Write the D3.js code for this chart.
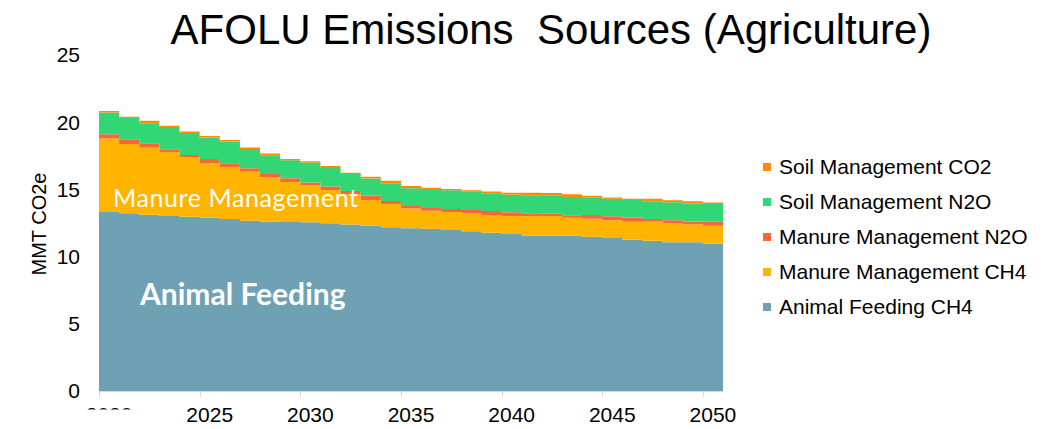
<!DOCTYPE html>
<html>
<head>
<meta charset="utf-8">
<script src="https://cdn.jsdelivr.net/npm/d3@7"></script>
<style>
  body { margin: 0; background: #fff; }
  svg { display: block; font-family: "Liberation Sans", Arial, sans-serif; }
</style>
</head>
<body>
<svg width="1043" height="429"></svg>
<script>
// years on the category axis
const years = d3.range(2020, 2051);

// series values (MMT CO2e)
const animalFeedingCH4 = [13.32, 13.22, 13.12, 13.02, 12.97, 12.89, 12.80, 12.67, 12.61, 12.57, 12.55,
  12.48, 12.39, 12.30, 12.19, 12.11, 12.08, 11.98, 11.88, 11.78, 11.68, 11.55, 11.55, 11.55, 11.48,
  11.38, 11.27, 11.18, 11.07, 11.07, 10.96];
const manureCH4 = [5.47, 5.16, 4.99, 4.76, 4.42, 4.07, 3.87, 3.70, 3.31, 2.98, 2.78,
  2.48, 2.27, 1.91, 1.73, 1.46, 1.34, 1.34, 1.34, 1.32, 1.34, 1.47, 1.47, 1.34, 1.34,
  1.32, 1.32, 1.43, 1.43, 1.34, 1.34];
const manureN2O = [0.31, 0.35, 0.33, 0.20, 0.17, 0.30, 0.28, 0.20, 0.22, 0.28, 0.19,
  0.26, 0.22, 0.33, 0.21, 0.19, 0.20, 0.22, 0.25, 0.30, 0.28, 0.20, 0.17, 0.18, 0.28,
  0.30, 0.31, 0.19, 0.20, 0.20, 0.30];
const soilN2O = [1.62, 1.58, 1.49, 1.66, 1.64, 1.60, 1.62, 1.44, 1.41, 1.34, 1.49,
  1.38, 1.26, 1.28, 1.32, 1.32, 1.34, 1.39, 1.36, 1.32, 1.31, 1.34, 1.34, 1.36, 1.32,
  1.30, 1.32, 1.32, 1.34, 1.35, 1.32];
const soilCO2 = [0.11, 0.10, 0.17, 0.10, 0.10, 0.11, 0.11, 0.10, 0.13, 0.10, 0.09,
  0.15, 0.10, 0.12, 0.19, 0.17, 0.17, 0.10, 0.10, 0.12, 0.15, 0.19, 0.20, 0.20, 0.10,
  0.10, 0.08, 0.18, 0.16, 0.15, 0.11];

const seriesNames = ["Animal Feeding CH4", "Manure Management CH4", "Manure Management N2O",
  "Soil Management N2O", "Soil Management CO2"];
const seriesValues = [animalFeedingCH4, manureCH4, manureN2O, soilN2O, soilCO2];
const colors = ["#6fa1b5", "#ffb400", "#fd6538", "#33d674", "#ff8a00"];
const yTicks = [0, 5, 10, 15, 20, 25];
const xLabelYears = [2020, 2025, 2030, 2035, 2040, 2045, 2050];

const svg = d3.select("svg");

// rows for d3.stack
const rows = years.map((yr, i) => {
  const r = { year: yr };
  seriesNames.forEach((n, s) => { r[n] = seriesValues[s][i]; });
  return r;
});
const stacked = d3.stack().keys(seriesNames)(rows);

const x = d3.scaleBand().domain(years).range([99, 723]).padding(0);
const y = d3.scaleLinear().domain([0, 25]).range([391, 55]);
const bw = x.bandwidth();

// stacked step areas
const area = d3.area()
  .curve(d3.curveStepAfter)
  .x(d => d.x)
  .y0(d => y(d.y0))
  .y1(d => y(d.y1));

stacked.forEach((layer, s) => {
  const pts = layer.map(d => ({ x: x(d.data.year), y0: d[0], y1: d[1] }));
  const last = layer[layer.length - 1];
  pts.push({ x: x(last.data.year) + bw, y0: last[0], y1: last[1] });
  svg.append("path")
    .attr("d", area(pts))
    .attr("fill", colors[s]);
});

// x axis line and ticks
const axisG = svg.append("g");
axisG.append("line")
  .attr("x1", x(2020)).attr("x2", x(2050) + bw)
  .attr("y1", y(0) + 0.5).attr("y2", y(0) + 0.5)
  .attr("stroke", "#d9d9d9");
axisG.selectAll(".tick")
  .data(xLabelYears)
  .enter().append("line")
  .attr("x1", d => Math.round(x(d)) + 0.5).attr("x2", d => Math.round(x(d)) + 0.5)
  .attr("y1", y(0)).attr("y2", y(0) + 6)
  .attr("stroke", "#d9d9d9");

// x labels; the first one is cut off in the original
svg.append("clipPath").attr("id", "firstLabel")
  .append("rect").attr("x", 0).attr("y", 0).attr("width", 200).attr("height", 409.5);
svg.selectAll(".xl")
  .data(xLabelYears)
  .enter().append("text")
  .attr("x", d => x(d) + bw / 2)
  .attr("y", 422)
  .attr("text-anchor", "middle")
  .attr("font-size", 21)
  .attr("fill", "#000")
  .attr("clip-path", d => d === 2020 ? "url(#firstLabel)" : null)
  .text(d => d);

// y labels
svg.selectAll(".yl")
  .data(yTicks)
  .enter().append("text")
  .attr("x", 80)
  .attr("y", d => y(d))
  .attr("dy", "0.35em")
  .attr("text-anchor", "end")
  .attr("font-size", 21)
  .text(d => d);

svg.append("text")
  .attr("transform", "translate(46,224) rotate(-90)")
  .attr("text-anchor", "middle")
  .attr("font-size", 20)
  .text("MMT CO2e");

// title
svg.append("text")
  .attr("x", 551)
  .attr("y", 43.5)
  .attr("text-anchor", "middle")
  .attr("font-size", 42)
  .style("white-space", "pre")
  .text("AFOLU Emissions  Sources (Agriculture)");

// legend, top entry is the top layer
const legend = svg.append("g");
const legendOrder = d3.range(seriesNames.length).reverse();
legendOrder.forEach((s, i) => {
  const ly = 167 + i * 35;
  legend.append("rect")
    .attr("x", 763).attr("y", ly - 4)
    .attr("width", 8).attr("height", 8)
    .attr("fill", colors[s]);
  legend.append("text")
    .attr("x", 779).attr("y", ly)
    .attr("dy", "0.35em")
    .attr("font-size", 21)
    .text(seriesNames[s]);
});

// labels on the areas
svg.append("text")
  .attr("x", 113).attr("y", 207)
  .attr("font-family", "Lato, 'Open Sans', sans-serif")
  .attr("font-size", 25)
  .attr("letter-spacing", 0.6)
  .attr("fill", "#fff")
  .text("Manure Management");

svg.append("text")
  .attr("x", 140).attr("y", 305)
  .attr("font-family", "Lato, 'Open Sans', sans-serif")
  .attr("font-weight", "bold")
  .attr("font-size", 30)
  .attr("fill", "#fff")
  .text("Animal Feeding");
</script>
</body>
</html>
